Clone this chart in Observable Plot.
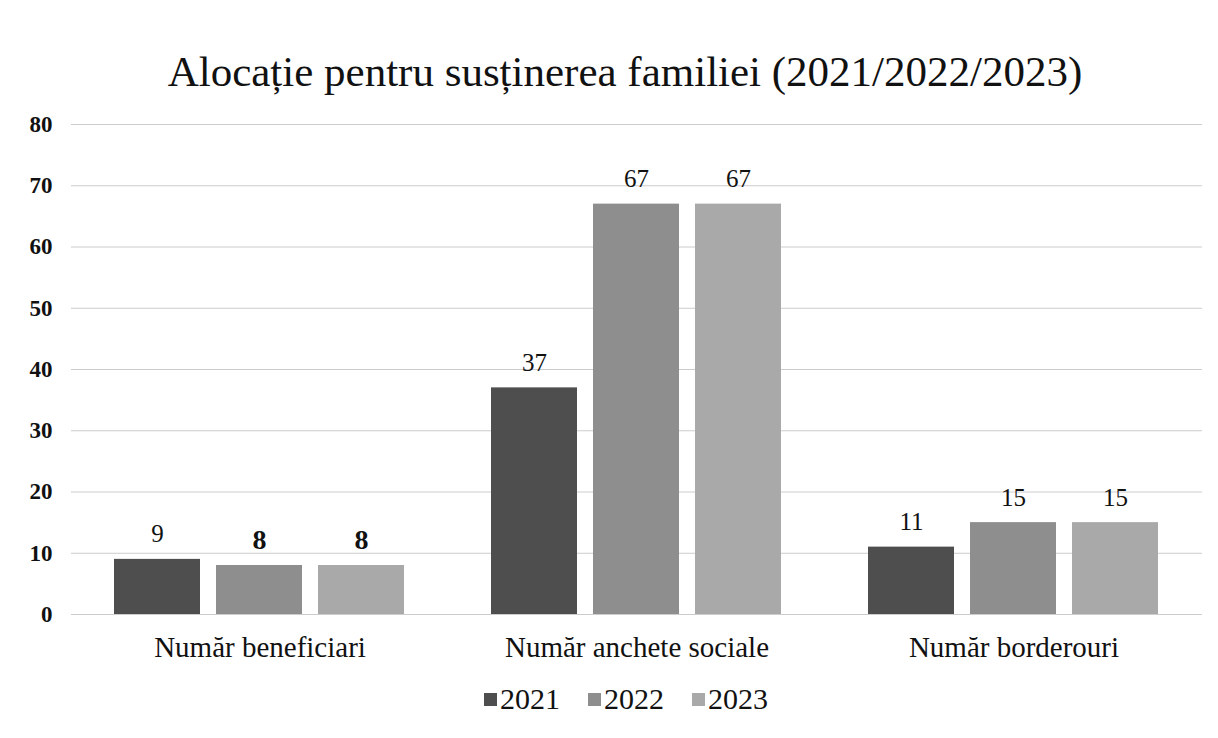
<!DOCTYPE html>
<html>
<head>
<meta charset="utf-8">
<script src="https://cdn.jsdelivr.net/npm/d3@7"></script>
<script src="https://cdn.jsdelivr.net/npm/@observablehq/plot@0.6"></script>
<style>
  body { margin: 0; background: #fff; font-family: "Liberation Serif", "Times New Roman", serif; }
  #wrap { width: 1218px; height: 738px; position: relative; box-sizing: border-box; overflow: hidden; }
  #title { height: 110px; padding-top: 50px; line-height: 44px; text-align: center; font-size: 43px; color: #111; padding-left: 32px; box-sizing: border-box; white-space: nowrap; }
  #chart { height: 560px; }
  #legend { display: flex; justify-content: center; gap: 28px; font-size: 30px; line-height: 34px; color: #111; margin-top: 12px; padding-left: 34px; font-family: "Liberation Serif", serif; }
  .item { display: flex; align-items: center; gap: 3px; }
  .sw { width: 13px; height: 13px; display: inline-block; }
</style>
</head>
<body>
<div id="wrap">
  <div id="title">Alocație pentru susținerea familiei (2021/2022/2023)</div>
  <div id="chart"></div>
  <div id="legend"></div>
</div>
<script>
const categories = ["Număr beneficiari", "Număr anchete sociale", "Număr borderouri"];
const years = ["2021", "2022", "2023"];
const values2021 = [9, 37, 11];
const values2022 = [8, 67, 15];
const values2023 = [8, 67, 15];
const colors = ["#4e4e4e", "#8e8e8e", "#a9a9a9"];
const yTicks = [0, 10, 20, 30, 40, 50, 60, 70, 80];
const boldLabels = [[false, true, true], [false, false, false], [false, false, false]];

const series = [values2021, values2022, values2023];
const data = [];
categories.forEach((c, i) => {
  years.forEach((y, j) => {
    data.push({category: c, year: y, value: series[j][i], bold: boldLabels[i][j]});
  });
});

const chart = Plot.plot({
  width: 1218,
  height: 560,
  marginLeft: 70,
  marginRight: 16,
  marginTop: 14,
  marginBottom: 56,
  style: {fontFamily: "'Liberation Serif', 'Times New Roman', serif", color: "#111", background: "transparent", overflow: "visible"},
  fx: {domain: categories, padding: 0, label: null, axis: null},
  x: {domain: years, paddingInner: 0.155, paddingOuter: 0.41, axis: null},
  y: {domain: [0, 80], ticks: yTicks, label: null, axis: null},
  color: {domain: years, range: colors},
  marks: [
    Plot.gridY(yTicks, {stroke: "#cccccc", strokeOpacity: 1, strokeWidth: 1}),
    Plot.axisY(yTicks, {tickSize: 0, tickPadding: 19, fontSize: 23, fontWeight: "bold", label: null}),
    Plot.axisFx({anchor: "bottom", tickSize: 0, tickPadding: 22, fontSize: 29, label: null}),
    Plot.barY(data, {fx: "category", x: "year", y: "value", fill: "year"}),
    Plot.text(data.filter(d => !d.bold), {fx: "category", x: "year", y: "value", text: d => String(d.value), dy: -25, fontSize: 25, lineAnchor: "middle"}),
    Plot.text(data.filter(d => d.bold), {fx: "category", x: "year", y: "value", text: d => String(d.value), dy: -25, fontSize: 28, fontWeight: "bold", lineAnchor: "middle"})
  ]
});
document.getElementById("chart").appendChild(chart);

const legend = document.getElementById("legend");
years.forEach((y, i) => {
  const item = document.createElement("span");
  item.className = "item";
  const sw = document.createElement("span");
  sw.className = "sw";
  sw.style.background = colors[i];
  item.appendChild(sw);
  const t = document.createElement("span");
  t.textContent = y;
  item.appendChild(t);
  legend.appendChild(item);
});
</script>
</body>
</html>
